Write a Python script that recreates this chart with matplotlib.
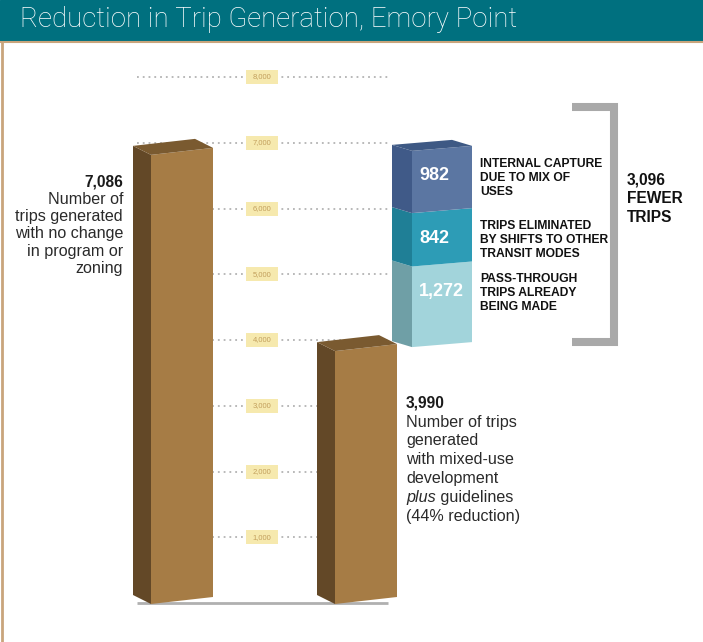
import matplotlib.pyplot as plt
from matplotlib.patches import Polygon, Rectangle

plt.rcParams['font.family'] = ['Liberation Sans', 'DejaVu Sans']
TITLE_FONT = ['Roboto', 'Liberation Sans', 'DejaVu Sans']

title = 'Reduction in Trip Generation, Emory Point'

grid_values = [1000, 2000, 3000, 4000, 5000, 6000, 7000, 8000]
grid_labels = ['1,000', '2,000', '3,000', '4,000', '5,000', '6,000', '7,000', '8,000']

bar_values = [7086, 3990]
bar_value_labels = ['7,086', '3,990']
left_note = ['Number of', 'trips generated', 'with no change', 'in program or', 'zoning']
right_note = ['Number of trips', 'generated', 'with mixed-use', 'development',
              'plus guidelines', '(44% reduction)']

# stacked reduction, bottom to top
stack_values = [1272, 842, 982]
stack_labels = ['1,272', '842', '982']
stack_notes = [['PASS-THROUGH', 'TRIPS ALREADY', 'BEING MADE'],
               ['TRIPS ELIMINATED', 'BY SHIFTS TO OTHER', 'TRANSIT MODES'],
               ['INTERNAL CAPTURE', 'DUE TO MIX OF', 'USES']]
total_note = ['3,096', 'FEWER', 'TRIPS']

# colours
teal = '#00707f'
tan = '#c9a57c'
brown = ['#a67c45', '#634827', '#7a5a30']   # front, side, top
stack_cols = [('#a2d4db', '#6f9fa6'), ('#2d9cb6', '#1f7f96'), ('#5b76a2', '#405a88')]
stack_top = '#3e5984'

# figure: x in pixels, y in trips (0 at row 603, 8000 at row 77)
W, H = 703, 642
PX = 8000 / 526.0


def py(p):
    return (603 - p) * PX


fig = plt.figure(figsize=(W / 100, H / 100), dpi=100)
ax = fig.add_axes([0, 0, 1, 1])
ax.set_xlim(0, W)
ax.set_ylim(py(H), py(0))
ax.axis('off')

# header band and frame
ax.add_patch(Rectangle((0, py(41)), W, py(0) - py(41), color=teal, zorder=5))
ax.plot([0, W], [py(42), py(42)], color=tan, lw=1.5, zorder=5)
ax.plot([2, 2], [py(42), py(H)], color=tan, lw=2, zorder=5)
ax.text(20, py(20), title, color='white', fontsize=19.9, family=TITLE_FONT,
        fontweight='light', ha='left', va='center', zorder=6)

# dotted grid with boxed labels
for v, lab in zip(grid_values, grid_labels):
    ax.hlines(v, 137, 388, colors='#b3b3b3', lw=1.3, linestyles=(0, (1, 2.2)), zorder=1)
    ax.add_patch(Rectangle((246, v - 7 * PX), 32, 14 * PX, fc='#f6e9ae', ec='none', zorder=1.5))
    ax.text(262, v, lab, fontsize=5.5, color='#c29f5c', ha='center', va='center', zorder=1.6)
ax.hlines(0, 137, 388, colors='#b0b0b0', lw=2, zorder=1)

# bars are drawn a little short of the grid in the artwork
BAR_K = 0.964
BASE = py(604)


def box(x0, w, y0, y1, front, side, top=None, dx=-18, dy=9, slope=7):
    dy, slope = dy * PX, slope * PX
    ax.add_patch(Polygon([(x0, y0), (x0, y1), (x0 + dx, y1 + dy), (x0 + dx, y0 + dy)],
                         closed=True, fc=side, ec='none', zorder=2))
    ax.add_patch(Polygon([(x0, y0), (x0 + w, y0 + slope), (x0 + w, y1 + slope), (x0, y1)],
                         closed=True, fc=front, ec='none', zorder=2))
    if top:
        ax.add_patch(Polygon([(x0, y1), (x0 + w, y1 + slope),
                              (x0 + w + dx, y1 + slope + dy), (x0 + dx, y1 + dy)],
                             closed=True, fc=top, ec='none', zorder=2))


bar_x = [151, 335]
for x0, v in zip(bar_x, bar_values):
    box(x0, 62, BASE, BASE + v * BAR_K, *brown)

# stacked reduction bar
y = BASE + bar_values[1] * BAR_K + 4 * PX
for i, (v, lab, note) in enumerate(zip(stack_values, stack_labels, stack_notes)):
    y1 = y + v * BAR_K
    box(412, 60, y, y1, stack_cols[i][0], stack_cols[i][1],
        stack_top if i == len(stack_values) - 1 else None, dx=-20, dy=6, slope=5)
    ax.text(419, y1 - 25 * PX, lab, color='white', fontsize=13, fontweight='bold',
            ha='left', va='center', zorder=3)
    for k, line in enumerate(note):
        ax.text(480, y1 - (13 + 14 * k) * PX, line, fontsize=8.7, fontweight='bold',
                ha='left', va='center', zorder=3, color='#111111')
    y = y1

# bracket and total
ax.plot([572, 614, 614, 572], [py(107), py(107), py(342), py(342)], color='#a9a9a9',
        lw=5.8, solid_joinstyle='miter', solid_capstyle='butt', zorder=2)
for k, line in enumerate(total_note):
    ax.text(627, py(180 + 18.5 * k), line, fontsize=11.2, fontweight='bold',
            ha='left', va='center', zorder=3, color='#111111')

# notes beside the bars
ax.text(123, py(182), bar_value_labels[0], fontsize=11.2, fontweight='bold',
        ha='right', va='center', color='#1a1a1a')
for k, line in enumerate(left_note):
    ax.text(123, py(199.5 + 17.2 * k), line, fontsize=11.6, ha='right', va='center',
            color='#2a2a2a')

ax.text(406, py(403), bar_value_labels[1], fontsize=11.2, fontweight='bold',
        ha='left', va='center', color='#1a1a1a')
for k, line in enumerate(right_note):
    yy = py(422 + 18.9 * k)
    if line.startswith('plus'):
        t = ax.text(406, yy, 'plus', fontsize=11.6, style='italic', ha='left', va='center',
                    color='#2a2a2a')
        ax.annotate(line[4:], xy=(1, 0.5), xycoords=t, fontsize=11.6, ha='left', va='center',
                    color='#2a2a2a')
    else:
        ax.text(406, yy, line, fontsize=11.6, ha='left', va='center', color='#2a2a2a')

fig.savefig('out.png', dpi=100)
